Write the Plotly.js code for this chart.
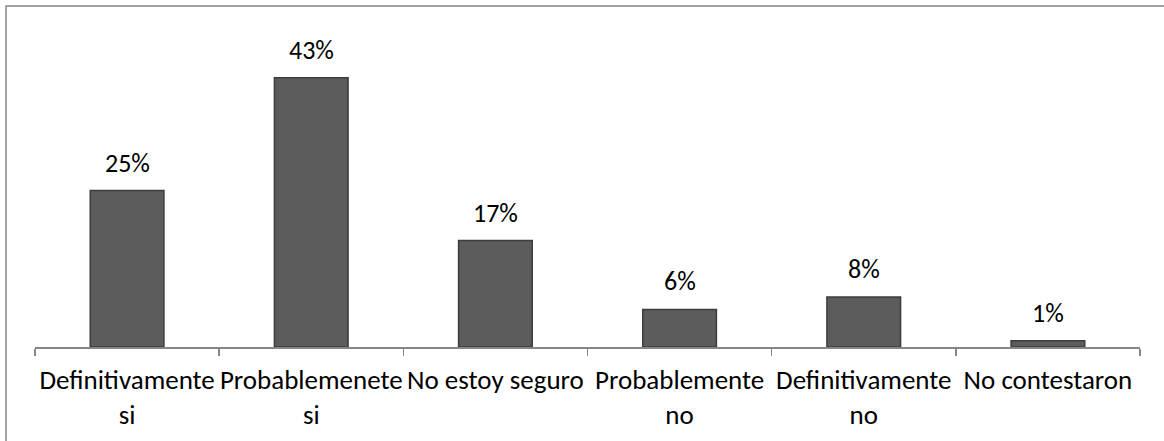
<!DOCTYPE html>
<html>
<head>
<meta charset="utf-8">
<script src="https://cdn.plot.ly/plotly-3.0.1.min.js"></script>
<style>html,body{margin:0;padding:0;background:#fff;}#chart{width:1164px;height:441px;}</style>
</head>
<body>
<div id="chart"></div>
<script>
const categories = ["Definitivamente<br>si", "Probablemenete<br>si", "No estoy seguro", "Probablemente<br>no", "Definitivamente<br>no", "No contestaron"];
const values = [25, 43, 17, 6, 8, 1];
const valueLabels = ["25%", "43%", "17%", "6%", "8%", "1%"];

const FONT = "Carlito, 'Liberation Sans', Arial, sans-serif";

const trace = {
  type: "bar",
  x: categories,
  y: values,
  width: 0.4,
  marker: {color: "#5c5c5c", line: {color: "#3c3c3c", width: 1.5}},
  hoverinfo: "none"
};

const annotations = categories.map((c, i) => ({
  x: c, y: values[i], xref: "x", yref: "y",
  text: valueLabels[i], showarrow: false,
  yanchor: "bottom", yshift: 10,
  font: {family: FONT, size: 26, color: "#000"}
}));

const layout = {
  width: 1164, height: 441,
  margin: {l: 35, r: 24, t: 34, b: 94},
  paper_bgcolor: "#fff", plot_bgcolor: "#fff",
  showlegend: false,
  xaxis: {
    type: "category",
    range: [-0.5, 5.5],
    tickson: "boundaries",
    tickangle: 0,
    ticks: "outside", ticklen: 7, tickcolor: "#868686", tickwidth: 1.5,
    showline: true, linecolor: "#868686", linewidth: 1.5,
    showgrid: false, zeroline: false,
    ticklabelstandoff: 8,
    tickfont: {family: FONT, size: 27, color: "#000"},
    fixedrange: true
  },
  yaxis: {
    range: [0, 50],
    visible: false, showgrid: false, zeroline: false, fixedrange: true
  },
  annotations: annotations,
  shapes: [{
    type: "rect", xref: "paper", yref: "paper",
    x0: -0.0262, x1: 1.04, y0: -0.4, y1: 1.0895,
    line: {color: "#868686", width: 1.5}, fillcolor: "rgba(0,0,0,0)"
  }]
};

Plotly.newPlot("chart", [trace], layout, {displayModeBar: false, staticPlot: true});
</script>
</body>
</html>
